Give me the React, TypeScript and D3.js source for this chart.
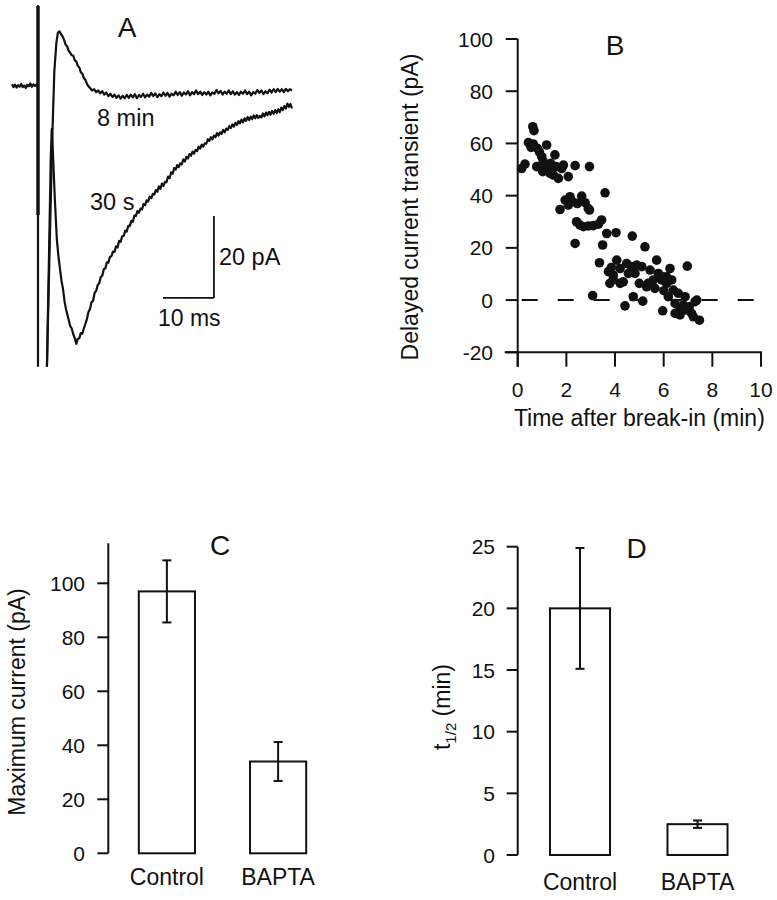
import React from "react";
import * as d3 from "d3";

// ---------- Panel A: current traces (time in ms, current in pA) ----------
const trace8min: [number, number][] = [
  [-5.1, 0.9], [-4.8, 0.2], [-4.5, 0.8], [-4.2, 0.1], [-3.9, 0.7], [-3.6, 0.3], [-3.3, 1.0], [-3.0, 0.2],
  [-2.7, 0.6], [-2.4, 0.0], [-2.1, 0.8], [-1.8, 0.4], [-1.5, 1.1], [-1.2, 0.3], [-0.9, 0.9], [-0.6, 0.5],
  [-0.3, 0.8], [0, 0.6], [0, 20], [0, -68], [NaN, NaN],
  [1.75, -68], [2.3, -38], [2.8, -12], [3.2, 4], [3.6, 11], [3.9, 13.5], [4.2, 13.8], [4.5, 13.2],
  [4.8, 12.6], [5.1, 11.8], [5.4, 10.6], [5.7, 10.2], [6.0, 9.1], [6.3, 8.6], [6.6, 8.0], [6.9, 7.9],
  [7.2, 6.8], [7.5, 6.5], [7.8, 5.4], [8.1, 5.0], [8.4, 3.8], [8.7, 3.5], [9.0, 2.4], [9.3, 2.0],
  [9.6, 1.0], [9.9, 0.4], [10.2, 0.0], [10.6, -0.6], [11.0, -0.3], [11.4, -1.0], [11.8, -0.6], [12.2, -1.3],
  [12.6, -0.8], [13.0, -1.6], [13.4, -1.1], [13.8, -2.0], [14.2, -1.4], [14.6, -2.2], [15.0, -1.6], [15.4, -2.4],
  [15.8, -1.8], [16.2, -2.6], [16.6, -1.9], [17.0, -2.5], [17.4, -1.7], [17.8, -2.4], [18.2, -1.6], [18.6, -2.3],
  [19.0, -1.5], [19.4, -2.5], [19.8, -1.7], [20.2, -2.2], [20.6, -1.4], [21.0, -2.3], [21.4, -1.6], [21.8, -2.1],
  [22.2, -1.2], [22.6, -2.0], [23.0, -1.3], [23.4, -2.2], [23.8, -1.5], [24.2, -2.0], [24.6, -1.1], [25.0, -1.9],
  [25.4, -1.2], [25.8, -2.1], [26.2, -1.4], [26.6, -1.8], [27.0, -0.9], [27.4, -1.7], [27.8, -1.0], [28.2, -1.9],
  [28.6, -1.1], [29.0, -1.6], [29.4, -0.8], [29.8, -1.8], [30.2, -1.0], [30.6, -1.5], [31.0, -0.6], [31.4, -1.5],
  [31.8, -0.9], [32.2, -1.7], [32.6, -1.0], [33.0, -1.6], [33.4, -0.9], [33.8, -1.8], [34.2, -1.1], [34.6, -1.4],
  [35.0, -0.5], [35.4, -1.3], [35.8, -0.7], [36.2, -1.6], [36.6, -0.9], [37.0, -1.4], [37.4, -0.6], [37.8, -1.5],
  [38.2, -0.8], [38.6, -1.6], [39.0, -1.0], [39.4, -1.7], [39.8, -0.9], [40.2, -1.4], [40.6, -0.6], [41.0, -1.5],
  [41.4, -0.9], [41.8, -1.8], [42.2, -1.0], [42.6, -1.4], [43.0, -0.5], [43.4, -1.2], [43.8, -0.6], [44.2, -1.5],
  [44.6, -0.8], [45.0, -1.3], [45.4, -0.4], [45.8, -1.1], [46.2, -0.3], [46.6, -1.0], [47.0, -0.2], [47.4, -0.9],
  [47.8, -0.3], [48.2, -1.0], [48.6, -0.2], [49.0, -0.8], [49.4, -0.3], [49.8, -0.6],
];

const trace30s: [number, number][] = [
  [1.75, -68], [2.2, -38], [2.5, -17], [2.7, -10], [2.9, -15], [3.3, -27], [3.7, -37], [4.0, -41],
  [4.3, -44], [4.6, -47], [4.9, -49], [5.2, -52], [5.5, -54], [5.9, -56], [6.3, -58], [6.6, -58.6],
  [6.9, -60], [7.2, -61], [7.5, -62.4], [7.8, -61.2], [8.1, -61.0], [8.4, -59.8], [8.7, -59.9], [9.0, -58.6],
  [9.3, -57.5], [9.6, -56.3], [9.9, -54.6], [10.2, -53.9], [10.5, -52.2], [10.8, -51.9], [11.1, -50.0], [11.4, -49.5],
  [11.7, -48.1], [12.0, -47.6], [12.3, -46.1], [12.6, -45.8], [12.9, -44.2], [13.2, -44.0], [13.5, -42.5], [13.8, -42.6],
  [14.1, -41.2], [14.4, -41.0], [14.7, -39.9], [15.0, -40.0], [15.3, -38.6], [15.6, -38.9], [15.9, -37.3], [16.2, -37.5],
  [16.5, -36.2], [16.8, -36.1], [17.1, -34.8], [17.4, -35.0], [17.7, -33.6], [18.0, -33.7], [18.3, -32.4], [18.6, -32.6],
  [18.9, -31.1], [19.2, -31.2], [19.5, -30.0], [19.8, -30.4], [20.1, -29.4], [20.4, -29.6], [20.7, -28.3], [21.0, -28.6],
  [21.3, -27.4], [21.6, -27.7], [21.9, -26.5], [22.2, -26.9], [22.5, -25.8], [22.8, -26.0], [23.1, -24.9], [23.4, -25.3],
  [23.7, -24.0], [24.0, -24.6], [24.3, -23.3], [24.6, -23.9], [24.9, -22.9], [25.2, -23.0], [25.5, -21.6], [25.8, -22.0],
  [26.1, -20.6], [26.4, -20.9], [26.7, -19.5], [27.0, -19.9], [27.3, -18.8], [27.6, -19.3], [27.9, -18.4], [28.2, -18.6],
  [28.5, -17.4], [28.8, -17.9], [29.1, -16.8], [29.4, -17.2], [29.7, -16.1], [30.0, -16.5], [30.3, -15.5], [30.6, -16.0],
  [30.9, -15.1], [31.2, -15.4], [31.5, -14.3], [31.8, -14.8], [32.1, -13.8], [32.4, -14.3], [32.7, -13.5], [33.0, -13.6],
  [33.3, -12.5], [33.6, -12.9], [33.9, -12.0], [34.2, -12.5], [34.5, -11.6], [34.8, -12.0], [35.1, -11.0], [35.4, -11.6],
  [35.7, -10.8], [36.0, -11.2], [36.3, -10.2], [36.6, -10.8], [36.9, -9.9], [37.2, -10.2], [37.5, -9.3], [37.8, -9.8],
  [38.1, -8.9], [38.4, -9.4], [38.7, -8.5], [39.0, -9.0], [39.3, -8.1], [39.6, -8.6], [39.9, -7.7], [40.2, -8.4],
  [40.5, -7.4], [40.8, -8.0], [41.1, -7.1], [41.4, -7.8], [41.7, -7.0], [42.0, -7.6], [42.3, -6.7], [42.6, -7.4],
  [42.9, -6.6], [43.2, -7.3], [43.5, -6.8], [43.8, -7.2], [44.1, -6.2], [44.4, -6.9], [44.7, -6.0], [45.0, -6.6],
  [45.3, -5.8], [45.6, -6.5], [45.9, -5.6], [46.2, -6.3], [46.5, -5.4], [46.8, -6.1], [47.1, -5.2], [47.4, -5.9],
  [47.7, -4.8], [48.0, -5.4], [48.3, -4.4], [48.6, -5.0], [48.9, -3.8], [49.2, -4.6], [49.5, -3.9], [49.8, -5.0],
];

// stimulus artifact (thick part), pA at t = 0
const artifactPA = [20, -31];
const scaleBarMs = 10;
const scaleBarPA = 20;
const traceLabels = ["8 min", "30 s"];

// ---------- Panel B: delayed current transient vs time after break-in ----------
const breakInMin = [
  0.16, 0.3, 0.44, 0.62, 0.67, 0.64, 0.81, 0.89, 0.78, 0.99, 1.05, 1.19, 1.03, 1.19, 1.33, 1.36, 1.53, 1.58, 1.47, 1.67,
  1.81, 1.88, 2.08, 2.36, 2.95, 1.74, 1.95, 2.15, 2.26, 2.08, 2.45, 2.63, 2.77, 2.9, 2.95, 2.42, 2.56, 2.7, 2.9, 3.11,
  3.32, 3.45, 3.59, 3.66, 3.49, 2.36, 4.04, 3.36, 3.08, 3.73, 3.79, 3.93, 4.07, 4.21, 4.34, 4.41, 4.48, 4.68, 4.71, 4.82,
  4.75, 4.89, 5.0, 5.1, 5.14, 5.23, 5.3, 5.44, 5.58, 5.64, 5.71, 5.78, 5.92, 5.96, 6.01, 6.12, 6.26, 6.33, 6.19, 6.4,
  6.47, 6.6, 6.67, 6.81, 6.88, 6.97, 7.05, 7.15, 7.29, 7.36, 7.47, 6.67, 6.47, 6.92, 7.22, 5.96, 5.36, 6.12, 3.93, 4.21,
  4.55, 0.55, 1.1, 1.25, 3.85,
];
const delayedPA = [
  50.4, 52.1, 60.3, 66.4, 64.9, 59.8, 58.1, 56.8, 51.1, 54.9, 53.0, 59.4, 49.2, 50.4, 48.5, 52.4, 55.6, 51.1, 47.9, 46.6,
  50.4, 51.7, 47.3, 51.5, 51.1, 34.7, 38.3, 39.6, 37.7, 36.4, 37.0, 39.8, 37.3, 35.1, 34.5, 30.0, 28.7, 28.1, 28.4, 28.5,
  29.1, 30.7, 41.1, 25.5, 21.1, 21.7, 25.8, 14.3, 1.7, 10.9, 6.4, 9.6, 15.3, 12.1, 7.0, -2.2, 14.0, 12.8, 24.5, 10.2,
  1.3, 13.4, 6.4, 12.8, -0.4, 20.4, 5.1, 11.5, 7.7, 4.5, 15.3, 10.2, 7.7, -4.1, 3.6, 8.9, 12.1, 7.7, 1.3, 3.8,
  -1.3, 2.6, -3.2, -1.9, 1.3, 13.0, -2.6, -5.1, -0.6, 0.0, -7.7, -5.7, -5.1, -3.8, -6.4, 8.9, 6.4, 6.4, 7.9, 6.4,
  10.2, 58.5, 52.0, 50.0, 12.5,
];
const xTicksB = [0, 2, 4, 6, 8, 10];
const yTicksB = [-20, 0, 20, 40, 60, 80, 100];

// ---------- Panels C & D: bar charts ----------
const groups = ["Control", "BAPTA"];
const maxCurrentPA = [97, 34];
const maxCurrentErr = [11.5, 7.2];
const yTicksC = [0, 20, 40, 60, 80, 100];
const tHalfMin = [20, 2.5];
const tHalfErr = [4.9, 0.3];
const yTicksD = [0, 5, 10, 15, 20, 25];

const FONT = "'Liberation Sans', Arial, Helvetica, sans-serif";
const INK = "#111";

function BarPanel(props: {
  values: number[];
  errs: number[];
  ticks: number[];
  y: d3.ScaleLinear<number, number>;
  x: d3.ScaleBand<string>;
  axisX: number;
  axisTop: number;
  labelEnd: number;
  catBaseline: number;
}) {
  const { values, errs, ticks, y, x, axisX, axisTop, labelEnd, catBaseline } = props;
  const cap = 4.5;
  return (
    <g>
      <line x1={axisX} x2={axisX} y1={axisTop} y2={y(0)} stroke={INK} strokeWidth={2} />
      {ticks.map((t) => (
        <g key={t}>
          <line x1={axisX - 11} x2={axisX} y1={y(t)} y2={y(t)} stroke={INK} strokeWidth={2} />
          <text x={labelEnd} y={y(t)} dy="0.36em" textAnchor="end" fontSize={21}>
            {t}
          </text>
        </g>
      ))}
      {groups.map((g, i) => {
        const cx = (x(g) as number) + x.bandwidth() / 2;
        return (
          <g key={g}>
            <rect
              x={x(g)}
              y={y(values[i])}
              width={x.bandwidth()}
              height={y(0) - y(values[i])}
              fill="white"
              stroke={INK}
              strokeWidth={2}
            />
            <line x1={cx} x2={cx} y1={y(values[i] - errs[i])} y2={y(values[i] + errs[i])} stroke={INK} strokeWidth={2} />
            <line x1={cx - cap} x2={cx + cap} y1={y(values[i] + errs[i])} y2={y(values[i] + errs[i])} stroke={INK} strokeWidth={2} />
            <line x1={cx - cap} x2={cx + cap} y1={y(values[i] - errs[i])} y2={y(values[i] - errs[i])} stroke={INK} strokeWidth={2} />
            <text x={cx} y={catBaseline} textAnchor="middle" fontSize={23}>
              {g}
            </text>
          </g>
        );
      })}
    </g>
  );
}

export default function App() {
  // Panel A scales
  const xA = d3.scaleLinear().domain([0, 10]).range([38, 89]);
  const yA = d3.scaleLinear().domain([0, -20]).range([88, 170]);
  const traceLine = d3
    .line<[number, number]>()
    .defined((d) => !isNaN(d[1]))
    .x((d) => xA(d[0]))
    .y((d) => yA(d[1]));
  const barT = 34.5; // ms, corner of scale bar
  const barI = -51.2; // pA

  // Panel B scales
  const xB = d3.scaleLinear().domain([0, 10]).range([517.7, 761]);
  const yB = d3.scaleLinear().domain([-20, 100]).range([352.3, 39]);

  // Panel C scales
  const xC = d3.scaleBand<string>().domain(groups).range([111, 334]).paddingInner(0.495).paddingOuter(0.25);
  const yC = d3.scaleLinear().domain([0, 100]).range([853.3, 583.3]);

  // Panel D scales
  const xD = d3.scaleBand<string>().domain(groups).range([520.6, 756.9]).paddingInner(0.489).paddingOuter(0.25);
  const yD = d3.scaleLinear().domain([0, 25]).range([855, 546.7]);

  return (
    <svg
      width={777}
      height={900}
      style={{ position: "absolute", left: 0, top: 0, background: "white" }}
      fontFamily={FONT}
      fill={INK}
    >
      <rect x={0} y={0} width={777} height={900} fill="white" />

      {/* ---------- Panel A ---------- */}
      <g>
        <path d={traceLine(trace30s) || ""} fill="none" stroke={INK} strokeWidth={2.2} strokeLinejoin="round" />
        <path d={traceLine(trace8min) || ""} fill="none" stroke={INK} strokeWidth={2.2} strokeLinejoin="round" />
        <line x1={xA(0)} x2={xA(0)} y1={yA(artifactPA[0])} y2={yA(artifactPA[1])} stroke={INK} strokeWidth={3.4} />
        {/* scale bar */}
        <line x1={xA(barT - scaleBarMs)} x2={xA(barT)} y1={yA(barI)} y2={yA(barI)} stroke={INK} strokeWidth={1.8} />
        <line x1={xA(barT)} x2={xA(barT)} y1={yA(barI)} y2={yA(barI + scaleBarPA)} stroke={INK} strokeWidth={1.8} />
        <text x={xA(barT) + 5} y={265} fontSize={23.5}>20 pA</text>
        <text x={xA(barT - scaleBarMs) - 5} y={326} fontSize={23}>10 ms</text>
        <text x={97} y={126} fontSize={23.5}>{traceLabels[0]}</text>
        <text x={90} y={210} fontSize={23.5}>{traceLabels[1]}</text>
        <text x={127} y={37} fontSize={28} textAnchor="middle">A</text>
      </g>

      {/* ---------- Panel B ---------- */}
      <g>
        <line x1={xB(0)} x2={xB(0)} y1={yB(100)} y2={yB(-20) + 14.4} stroke={INK} strokeWidth={2} />
        <line x1={xB(0) - 13} x2={xB(10) + 1} y1={yB(-20)} y2={yB(-20)} stroke={INK} strokeWidth={2} />
        {yTicksB.map((t) => (
          <g key={t}>
            <line x1={xB(0) - 12} x2={xB(0)} y1={yB(t)} y2={yB(t)} stroke={INK} strokeWidth={2} />
            <text x={493} y={yB(t)} dy="0.36em" textAnchor="end" fontSize={21}>
              {t}
            </text>
          </g>
        ))}
        {xTicksB.map((t) => (
          <g key={t}>
            <line x1={xB(t)} x2={xB(t)} y1={yB(-20)} y2={yB(-20) + 14.4} stroke={INK} strokeWidth={2} />
            <text x={xB(t)} y={397} textAnchor="middle" fontSize={21}>
              {t}
            </text>
          </g>
        ))}
        <line
          x1={xB(0) + 4}
          x2={757}
          y1={yB(0)}
          y2={yB(0)}
          stroke={INK}
          strokeWidth={2}
          strokeDasharray="16 20"
        />
        {breakInMin.map((t, i) => (
          <circle key={i} cx={xB(t)} cy={yB(delayedPA[i])} r={4.8} fill={INK} />
        ))}
        <text x={615} y={55} fontSize={28} textAnchor="middle">B</text>
        <text x={(xB(0) + xB(10)) / 2} y={426} textAnchor="middle" fontSize={23}>
          Time after break-in (min)
        </text>
        <text transform="translate(418,207) rotate(-90)" textAnchor="middle" fontSize={23}>
          Delayed current transient (pA)
        </text>
      </g>

      {/* ---------- Panel C ---------- */}
      <g>
        <BarPanel
          values={maxCurrentPA}
          errs={maxCurrentErr}
          ticks={yTicksC}
          y={yC}
          x={xC}
          axisX={108.3}
          axisTop={543.3}
          labelEnd={85}
          catBaseline={885}
        />
        <text x={220} y={555} fontSize={28} textAnchor="middle">C</text>
        <text transform="translate(25,702) rotate(-90)" textAnchor="middle" fontSize={23}>
          Maximum current (pA)
        </text>
      </g>

      {/* ---------- Panel D ---------- */}
      <g>
        <BarPanel
          values={tHalfMin}
          errs={tHalfErr}
          ticks={yTicksD}
          y={yD}
          x={xD}
          axisX={517.7}
          axisTop={546.7}
          labelEnd={495}
          catBaseline={890}
        />
        <text x={636.7} y={558} fontSize={28} textAnchor="middle">D</text>
        <text transform="translate(450,707) rotate(-90)" textAnchor="middle" fontSize={23}>
          t<tspan fontSize={15} dy={6}>1/2</tspan>
          <tspan dy={-6}> (min)</tspan>
        </text>
      </g>
    </svg>
  );
}
